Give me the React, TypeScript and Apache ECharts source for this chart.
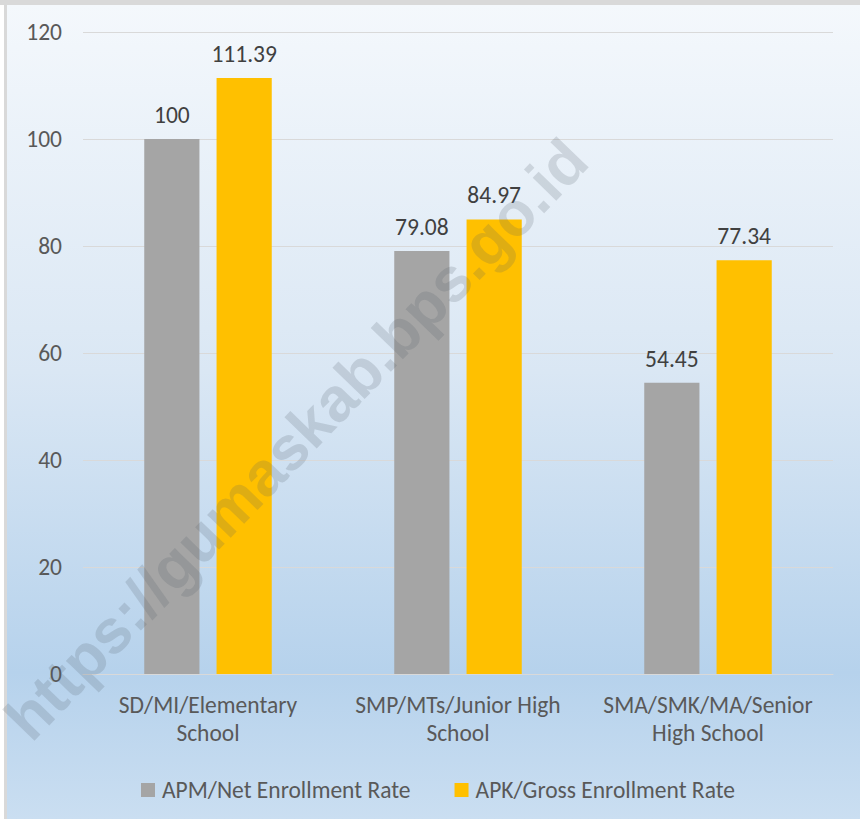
import React, { useEffect, useRef } from "react";
import * as echarts from "echarts";

const categories = ["SD/MI/Elementary\nSchool", "SMP/MTs/Junior High\nSchool", "SMA/SMK/MA/Senior\nHigh School"];
const apmValues = [100, 79.08, 54.45];
const apkValues = [111.39, 84.97, 77.34];
const seriesNames = ["APM/Net Enrollment Rate", "APK/Gross Enrollment Rate"];
const watermark = "https://gumaskab.bps.go.id";

const FONT = "Carlito, Calibri, Lato, 'Open Sans', sans-serif";
const FS = 23.5;

export default function App() {
  const ref = useRef<HTMLDivElement>(null);
  useEffect(() => {
    const chart = echarts.init(ref.current!, undefined, { renderer: "svg" });
    chart.setOption({
      animation: false,
      backgroundColor: "#ffffff",
      textStyle: { fontFamily: FONT },
      graphic: [
        { type: "rect", z: -10, shape: { x: 0, y: 0, width: 860, height: 5 }, style: { fill: "#d9d9d9" } },
        { type: "rect", z: -10, shape: { x: 4, y: 0, width: 3, height: 819 }, style: { fill: "#d9d9d9" } },
        {
          type: "rect",
          z: -9,
          shape: { x: 7, y: 5, width: 853, height: 814 },
          style: {
            fill: new echarts.graphic.LinearGradient(0, 0, 0, 1, [
              { offset: 0, color: "#F4F8FC" },
              { offset: 0.45, color: "#DAE7F4" },
              { offset: 0.82, color: "#B6D2EC" },
              { offset: 1, color: "#CADEF1" },
            ]),
          },
        },
        {
          type: "text",
          z: 100,
          x: 296,
          y: 439,
          rotation: (46 * Math.PI) / 180,
          style: {
            text: watermark,
            fontSize: 62,
            fontWeight: "bold",
            fontFamily: "'Liberation Sans', Arial, sans-serif",
            fill: "rgba(80,90,100,0.19)",
            align: "center",
            verticalAlign: "middle",
          },
        },
      ],
      grid: { left: 83, right: 27, top: 32, bottom: 145, containLabel: false },
      legend: {
        left: 136,
        top: 773,
        itemWidth: 14,
        itemHeight: 14,
        itemGap: 44,
        icon: "rect",
        textStyle: { fontSize: FS, color: "#595959", fontFamily: FONT, padding: [0, 0, 0, 2] },
        data: seriesNames,
      },
      xAxis: {
        type: "category",
        data: categories,
        axisLine: { lineStyle: { color: "#d9d9d9" } },
        axisTick: { show: false },
        axisLabel: { fontSize: FS, color: "#595959", lineHeight: 28, margin: 17, interval: 0 },
      },
      yAxis: {
        type: "value",
        min: 0,
        max: 120,
        interval: 20,
        axisLine: { show: false },
        axisTick: { show: false },
        splitLine: { lineStyle: { color: "#d9d9d9" } },
        axisLabel: { fontSize: FS, color: "#595959", margin: 21 },
      },
      series: [
        {
          name: seriesNames[0],
          type: "bar",
          data: apmValues,
          barGap: "31%",
          barCategoryGap: "49%",
          itemStyle: { color: "#A5A5A5" },
          label: { show: true, position: "top", distance: 12, fontSize: FS, color: "#404040" },
        },
        {
          name: seriesNames[1],
          type: "bar",
          data: apkValues,
          itemStyle: { color: "#FFC000" },
          label: { show: true, position: "top", distance: 12, fontSize: FS, color: "#404040" },
        },
      ],
    });
    return () => chart.dispose();
  }, []);
  return <div ref={ref} style={{ position: "absolute", left: 0, top: 0, width: 860, height: 819 }} />;
}
